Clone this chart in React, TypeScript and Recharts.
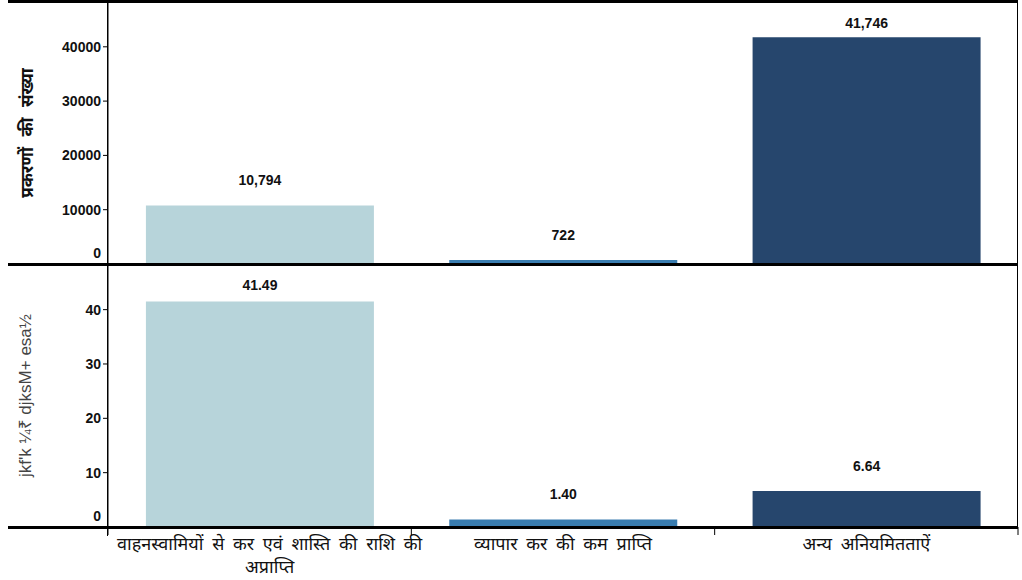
import { BarChart, Bar, XAxis, YAxis, Cell, LabelList } from "recharts";

const categories = [
  "वाहनस्वामियों से कर एवं शास्ति की राशि की\nअप्राप्ति",
  "व्यापार कर की कम प्राप्ति",
  "अन्य अनियमितताऐं",
];
const caseCounts = [10794, 722, 41746];
const amounts = [41.49, 1.4, 6.64];
const barColors = ["#b7d4da", "#3a7db0", "#26466d"];
const caseTicks = [0, 10000, 20000, 30000, 40000];
const amountTicks = [0, 10, 20, 30, 40];

const data = categories.map((name, i) => ({
  name,
  cases: caseCounts[i],
  amount: amounts[i],
}));

const numFont = "'Liberation Sans', Arial, sans-serif";
const hindiFont = "'Noto Sans', 'Liberation Sans', sans-serif";
const halfBand = 910 / 3 / 2;

const makeLabel = (fmt: (v: number) => string, panelTop: number) => (props: any) => {
  const { x, y, width, value } = props;
  const ty = Math.max(y - 20, panelTop + 26);
  return (
    <text x={x + width / 2} y={ty} textAnchor="middle" fontFamily={numFont} fontWeight="bold" fontSize={14} fill="#111">
      {fmt(value)}
    </text>
  );
};

const YTick = (props: any) => {
  const { x, y, payload } = props;
  return (
    <text x={x} y={payload.value === 0 ? y - 6 : y + 5} textAnchor="end" fontFamily={numFont} fontWeight="bold" fontSize={14} fill="#111">
      {payload.value}
    </text>
  );
};

const XTick = (props: any) => {
  const { x, y, payload, index } = props;
  const lines = String(payload.value).split("\n");
  // multi-line label sits a little right of centre in the original
  const cx = lines.length > 1 ? x + 10 : x;
  return (
    <g>
      <line x1={x - halfBand} x2={x - halfBand} y1={y - 8} y2={y} stroke="#000" />
      {index === categories.length - 1 && <line x1={x + halfBand} x2={x + halfBand} y1={y - 8} y2={y} stroke="#000" />}
      <text textAnchor="middle" fontFamily={hindiFont} fontSize={18} wordSpacing={4} fill="#111">
        {lines.map((l, i) => (
          <tspan key={i} x={cx} y={y + 15 + i * 23}>
            {l}
          </tspan>
        ))}
      </text>
    </g>
  );
};

const hLine = (top: number) => (
  <div style={{ position: "absolute", left: 8, top, width: 1010, height: 3, background: "#000" }} />
);

export default function App() {
  return (
    <div style={{ position: "absolute", left: 0, top: 0, width: 1022, height: 580, background: "#fff" }}>
      <div style={{ position: "absolute", left: 0, top: 0 }}>
        <BarChart width={1022} height={266} data={data} margin={{ top: 2, right: 4, left: 0, bottom: 2 }} barCategoryGap="12.5%">
          <XAxis dataKey="name" hide />
          <YAxis
            width={108}
            domain={[0, 48250]}
            ticks={caseTicks}
            interval={0}
            tick={<YTick />}
            tickSize={5}
            tickMargin={2}
            stroke="#000"
            label={{ value: "प्रकरणों की संख्या", angle: -90, position: "insideLeft", dx: 22, style: { fontFamily: hindiFont, fontSize: 17, fontWeight: "bold", wordSpacing: 6, fill: "#111", textAnchor: "middle" } }}
          />
          <Bar dataKey="cases" isAnimationActive={false}>
            {data.map((_, i) => (
              <Cell key={i} fill={barColors[i]} />
            ))}
            <LabelList dataKey="cases" content={makeLabel((v) => v.toLocaleString("en-US"), 2)} />
          </Bar>
        </BarChart>
      </div>
      <div style={{ position: "absolute", left: 0, top: 264 }}>
        <BarChart width={1022} height={316} data={data} margin={{ top: 0, right: 4, left: 0, bottom: 0 }} barCategoryGap="12.5%">
          <XAxis dataKey="name" height={53} axisLine={false} tickLine={false} tickSize={8} tickMargin={0} tick={<XTick />} interval={0} />
          <YAxis
            width={108}
            domain={[0, 48.4]}
            ticks={amountTicks}
            interval={0}
            tick={<YTick />}
            tickSize={5}
            tickMargin={2}
            stroke="#000"
            label={{ value: "jkf'k ¼₹ djksM+ esa½", angle: -90, position: "insideLeft", dx: 20, style: { fontFamily: numFont, fontSize: 17, fill: "#444", textAnchor: "middle" } }}
          />
          <Bar dataKey="amount" isAnimationActive={false}>
            {data.map((_, i) => (
              <Cell key={i} fill={barColors[i]} />
            ))}
            <LabelList dataKey="amount" content={makeLabel((v) => v.toFixed(2), 0)} />
          </Bar>
        </BarChart>
      </div>
      {hLine(0)}
      {hLine(263)}
      {hLine(526)}
      <div style={{ position: "absolute", left: 1017, top: 0, width: 1, height: 528, background: "#000" }} />
      <div style={{ position: "absolute", left: 107, top: 0, width: 1, height: 536, background: "#000" }} />
    </div>
  );
}
